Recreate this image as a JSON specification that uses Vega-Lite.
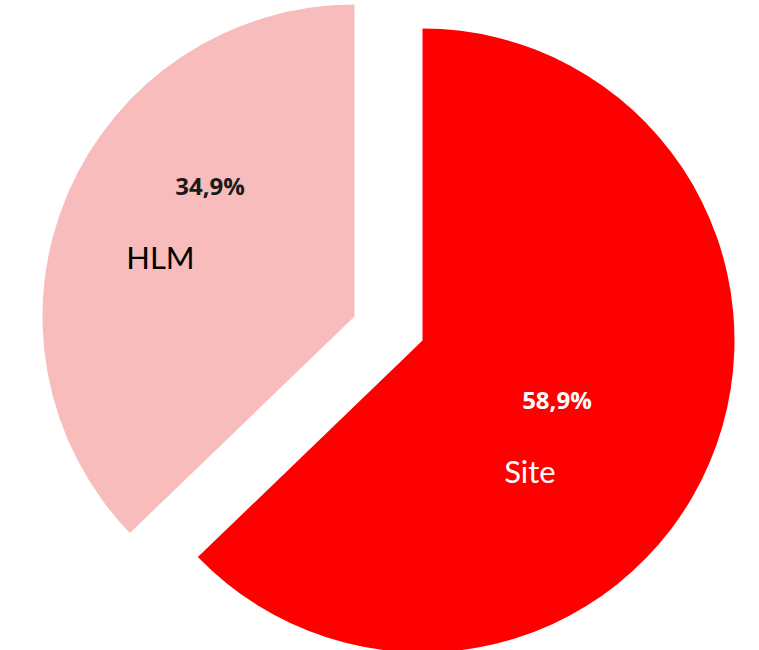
{
  "$schema": "https://vega.github.io/schema/vega-lite/v6.json",
  "width": 759,
  "height": 650,
  "autosize": {"type": "fit", "contains": "padding"},
  "padding": 0,
  "background": "white",
  "config": {"view": {"stroke": null}},
  "data": {
    "values": [
      {"cat": "Site", "value": 58.9, "label": "58,9%"},
      {"cat": "HLM", "value": 34.9, "label": "34,9%"}
    ]
  },
  "encoding": {
    "theta": {"field": "value", "type": "quantitative", "stack": true},
    "order": {"field": "value", "type": "quantitative", "sort": "descending"}
  },
  "layer": [
    {
      "mark": {"type": "arc", "outerRadius": 312, "fill": "#FF0000", "xOffset": 43, "yOffset": 18},
      "encoding": {
        "opacity": {"condition": {"test": "datum.cat === 'Site'", "value": 1}, "value": 0}
      }
    },
    {
      "mark": {"type": "arc", "outerRadius": 312, "fill": "#F8BCBC", "xOffset": -25, "yOffset": -6},
      "encoding": {
        "opacity": {"condition": {"test": "datum.cat === 'HLM'", "value": 1}, "value": 0}
      }
    },
    {
      "mark": {"type": "text", "radius": 145, "xOffset": 43, "yOffset": 18, "dx": 1, "dy": 5, "font": "Open Sans", "fontWeight": "bold", "fontSize": 24, "fill": "white"},
      "encoding": {
        "text": {"field": "label"},
        "opacity": {"condition": {"test": "datum.cat === 'Site'", "value": 1}, "value": 0}
      }
    },
    {
      "mark": {"type": "text", "radius": 145, "xOffset": 43, "yOffset": 18, "dx": -26, "dy": 77, "font": "Lato", "fontSize": 31, "fill": "white"},
      "encoding": {
        "text": {"field": "cat"},
        "opacity": {"condition": {"test": "datum.cat === 'Site'", "value": 1}, "value": 0}
      }
    },
    {
      "mark": {"type": "text", "radius": 145, "xOffset": -25, "yOffset": -6, "dx": -11, "dy": -72, "font": "Open Sans", "fontWeight": "bold", "fontSize": 24, "fill": "#1a1a1a"},
      "encoding": {
        "text": {"field": "label"},
        "opacity": {"condition": {"test": "datum.cat === 'HLM'", "value": 1}, "value": 0}
      }
    },
    {
      "mark": {"type": "text", "radius": 200, "xOffset": -25, "yOffset": -6, "dx": -10, "dy": 22, "font": "Lato", "fontSize": 31, "fill": "black"},
      "encoding": {
        "text": {"field": "cat"},
        "opacity": {"condition": {"test": "datum.cat === 'HLM'", "value": 1}, "value": 0}
      }
    }
  ]
}
